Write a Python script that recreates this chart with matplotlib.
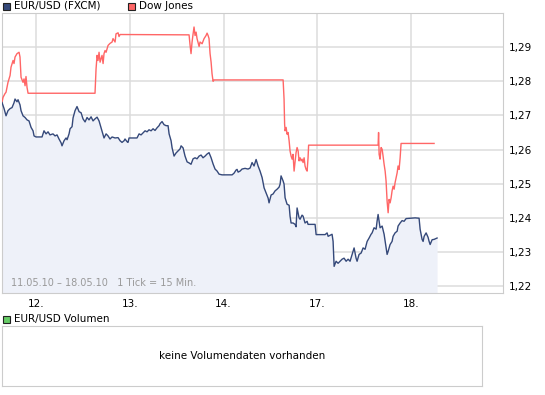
import numpy as np
import matplotlib.pyplot as plt
from matplotlib.patches import Rectangle

# trading-session position (12. = 1, 13. = 2, 14. = 3, 17. = 4, 18. = 5)
eur_t = [0.637, 0.659, 0.680, 0.701, 0.723, 0.744, 0.765, 0.776, 0.797, 0.808,
         0.829, 0.840, 0.861, 0.883, 0.904, 0.925, 0.947, 0.968, 0.979, 1.000,
         1.064, 1.085, 1.107, 1.128, 1.149, 1.181, 1.203, 1.224, 1.245, 1.267,
         1.277, 1.299, 1.320, 1.331, 1.352, 1.363, 1.384, 1.395, 1.416, 1.437,
         1.459, 1.480, 1.501, 1.523, 1.544, 1.565, 1.587, 1.608, 1.629, 1.651,
         1.672, 1.693, 1.715, 1.725, 1.747, 1.768, 1.789, 1.811, 1.843, 1.875,
         1.896, 1.917, 1.939, 1.949, 1.971, 1.981, 1.992, 2.077, 2.099, 2.120,
         2.141, 2.163, 2.184, 2.205, 2.227, 2.248, 2.269, 2.291, 2.312, 2.323,
         2.344, 2.365, 2.387, 2.408, 2.419, 2.440, 2.451, 2.472, 2.493, 2.515,
         2.536, 2.547, 2.568, 2.589, 2.611, 2.632, 2.653, 2.675, 2.696, 2.717,
         2.739, 2.760, 2.781, 2.803, 2.824, 2.845, 2.867, 2.888, 2.909, 2.931,
         2.952, 2.984, 3.091, 3.112, 3.133, 3.144, 3.155, 3.176, 3.197, 3.229,
         3.261, 3.283, 3.304, 3.325, 3.347, 3.368, 3.389, 3.411, 3.432, 3.453,
         3.475, 3.485, 3.507, 3.528, 3.549, 3.571, 3.592, 3.603, 3.613, 3.635,
         3.645, 3.656, 3.677, 3.699, 3.709, 3.720, 3.741, 3.763, 3.773, 3.784,
         3.805, 3.816, 3.837, 3.848, 3.869, 3.891, 3.901, 3.976, 3.987, 4.083,
         4.104, 4.115, 4.136, 4.157, 4.168, 4.179, 4.200, 4.221, 4.243, 4.264,
         4.285, 4.307, 4.328, 4.349, 4.371, 4.392, 4.413, 4.424, 4.445, 4.467,
         4.488, 4.509, 4.531, 4.552, 4.573, 4.584, 4.605, 4.627, 4.637, 4.648,
         4.669, 4.691, 4.712, 4.723, 4.744, 4.755, 4.776, 4.797, 4.808, 4.829,
         4.851, 4.861, 4.883, 4.904, 4.925, 4.947, 4.989, 5.043, 5.085, 5.096,
         5.117, 5.128, 5.139, 5.160, 5.181, 5.192, 5.203, 5.224, 5.245, 5.277]
eur_usd = [1.2738, 1.2720, 1.2699, 1.2714, 1.2720, 1.2723, 1.2737, 1.2748, 1.2740, 1.2746,
           1.2731, 1.2714, 1.2699, 1.2694, 1.2687, 1.2684, 1.2665, 1.2655, 1.2640, 1.2637,
           1.2637, 1.2655, 1.2646, 1.2652, 1.2643, 1.2646, 1.2640, 1.2643, 1.2631, 1.2620,
           1.2611, 1.2626, 1.2634, 1.2629, 1.2646, 1.2661, 1.2667, 1.2693, 1.2714, 1.2726,
           1.2711, 1.2708, 1.2690, 1.2681, 1.2694, 1.2687, 1.2696, 1.2684, 1.2690, 1.2695,
           1.2684, 1.2664, 1.2643, 1.2634, 1.2646, 1.2640, 1.2631, 1.2637, 1.2634, 1.2635,
           1.2626, 1.2621, 1.2626, 1.2631, 1.2623, 1.2621, 1.2634, 1.2634, 1.2646, 1.2643,
           1.2649, 1.2655, 1.2652, 1.2658, 1.2655, 1.2661, 1.2656, 1.2664, 1.2670, 1.2676,
           1.2682, 1.2673, 1.2670, 1.2670, 1.2646, 1.2626, 1.2605, 1.2581, 1.2590, 1.2596,
           1.2602, 1.2611, 1.2605, 1.2581, 1.2564, 1.2561, 1.2557, 1.2573, 1.2576, 1.2573,
           1.2581, 1.2584, 1.2576, 1.2581, 1.2587, 1.2591, 1.2576, 1.2558, 1.2543, 1.2537,
           1.2528, 1.2526, 1.2526, 1.2531, 1.2540, 1.2542, 1.2534, 1.2537, 1.2543, 1.2545,
           1.2543, 1.2546, 1.2562, 1.2552, 1.2571, 1.2552, 1.2537, 1.2518, 1.2488, 1.2473,
           1.2458, 1.2444, 1.2467, 1.2470, 1.2479, 1.2484, 1.2490, 1.2499, 1.2523, 1.2508,
           1.2499, 1.2459, 1.2440, 1.2437, 1.2405, 1.2385, 1.2385, 1.2381, 1.2374, 1.2429,
           1.2400, 1.2396, 1.2408, 1.2405, 1.2385, 1.2390, 1.2381, 1.2381, 1.2351, 1.2351,
           1.2356, 1.2346, 1.2349, 1.2352, 1.2331, 1.2258, 1.2273, 1.2267, 1.2273, 1.2279,
           1.2282, 1.2273, 1.2279, 1.2273, 1.2293, 1.2312, 1.2282, 1.2273, 1.2293, 1.2297,
           1.2312, 1.2308, 1.2331, 1.2341, 1.2352, 1.2356, 1.2371, 1.2367, 1.2390, 1.2410,
           1.2371, 1.2376, 1.2352, 1.2331, 1.2293, 1.2302, 1.2322, 1.2331, 1.2346, 1.2356,
           1.2361, 1.2376, 1.2385, 1.2392, 1.2390, 1.2398, 1.2399, 1.2400, 1.2399, 1.2367,
           1.2337, 1.2331, 1.2346, 1.2356, 1.2343, 1.2331, 1.2322, 1.2336, 1.2337, 1.2341]

# Dow Jones, drawn on the same (normalised) scale as EUR/USD
dow_t = [0.637, 0.648, 0.669, 0.680, 0.701, 0.723, 0.733, 0.755, 0.765, 0.776,
         0.797, 0.819, 0.829, 0.840, 0.861, 0.872, 0.883, 0.893, 0.904, 0.915,
         1.629, 1.640, 1.651, 1.661, 1.672, 1.683, 1.704, 1.715, 1.725, 1.736,
         1.747, 1.768, 1.789, 1.811, 1.821, 1.843, 1.853, 1.875, 1.885, 1.896,
         2.632, 2.643, 2.653, 2.664, 2.675, 2.685, 2.696, 2.707, 2.717, 2.739,
         2.749, 2.771, 2.792, 2.813, 2.824, 2.835, 2.845, 2.856, 2.867, 2.877,
         2.888, 2.899, 3.635, 3.645, 3.651, 3.656, 3.667, 3.677, 3.688, 3.699,
         3.709, 3.720, 3.731, 3.741, 3.752, 3.773, 3.784, 3.795, 3.805, 3.816,
         3.827, 3.837, 3.848, 3.859, 3.869, 3.880, 3.891, 3.901, 3.907, 4.648,
         4.653, 4.659, 4.669, 4.680, 4.691, 4.701, 4.712, 4.723, 4.733, 4.744,
         4.755, 4.765, 4.776, 4.787, 4.797, 4.808, 4.819, 4.829, 4.851, 4.861,
         4.872, 4.883, 4.893, 5.245]
dow_jones = [1.2738, 1.2753, 1.2764, 1.2768, 1.2797, 1.2817, 1.2841, 1.2861, 1.2852, 1.2871,
             1.2881, 1.2885, 1.2871, 1.2812, 1.2797, 1.2807, 1.2787, 1.2814, 1.2782, 1.2765,
             1.2765, 1.2836, 1.2876, 1.2861, 1.2885, 1.2856, 1.2876, 1.2852, 1.2881, 1.2890,
             1.2885, 1.2905, 1.2911, 1.2915, 1.2925, 1.2915, 1.2939, 1.2942, 1.2931, 1.2937,
             1.2936, 1.2905, 1.2881, 1.2915, 1.2939, 1.2959, 1.2934, 1.2944, 1.2925, 1.2902,
             1.2915, 1.2910, 1.2925, 1.2934, 1.2941, 1.2934, 1.2925, 1.2881, 1.2856, 1.2822,
             1.2800, 1.2804, 1.2804, 1.2748, 1.2675, 1.2655, 1.2665, 1.2645, 1.2650, 1.2626,
             1.2596, 1.2581, 1.2572, 1.2586, 1.2537, 1.2591, 1.2606, 1.2596, 1.2567, 1.2576,
             1.2567, 1.2572, 1.2562, 1.2576, 1.2552, 1.2542, 1.2537, 1.2576, 1.2613, 1.2613,
             1.2650, 1.2586, 1.2572, 1.2606, 1.2601, 1.2581, 1.2557, 1.2537, 1.2508, 1.2449,
             1.2415, 1.2454, 1.2444, 1.2459, 1.2479, 1.2493, 1.2484, 1.2503, 1.2532, 1.2552,
             1.2542, 1.2576, 1.2618, 1.2618]

day_pos = [1, 2, 3, 4, 5]
day_labels = ["12.", "13.", "14.", "17.", "18."]
price_ticks = [1.22, 1.23, 1.24, 1.25, 1.26, 1.27, 1.28, 1.29]

blue = "#35497a"
red = "#ff6666"
grid_c = "#dcdcdc"

plt.rcParams['font.family'] = ['DejaVu Sans']
fig = plt.figure(figsize=(5.45, 3.95), dpi=100)

ax = fig.add_axes([2 / 545, 102 / 395, 501 / 545, 280 / 395])
ax.set_xlim(0.637, 5.98)
ax.set_ylim(1.218, 1.300)
ax.fill_between(eur_t, eur_usd, 1.218, color="#eef1f9", lw=0, zorder=1)
ax.grid(True, color=grid_c, lw=1.1, zorder=0)
ax.plot(dow_t, dow_jones, color=red, lw=1.0, zorder=3)
ax.plot(eur_t, eur_usd, color=blue, lw=1.0, zorder=4)
ax.set_xticks(day_pos)
ax.set_xticklabels(day_labels, fontsize=7.5)
ax.set_yticks(price_ticks)
ax.set_yticklabels([f"{v:.2f}".replace(".", ",") for v in price_ticks], fontsize=7.5)
ax.yaxis.tick_right()
ax.tick_params(length=0, pad=4)
for s in ax.spines.values():
    s.set_color("#cccccc")
ax.set_axisbelow(True)
ax.text(0.018, 0.018, "11.05.10 \u2013 18.05.10   1 Tick = 15 Min.", transform=ax.transAxes,
        fontsize=7, color="#999999", va="bottom", ha="left", zorder=5)

# legend squares on top
def legend_item(x, y, col, label):
    fig.patches.append(Rectangle((x / 545, 1 - (y + 4) / 395), 7 / 545, 7 / 395,
                                 transform=fig.transFigure, facecolor=col,
                                 edgecolor="#222222", lw=0.8))
    fig.text((x + 11) / 545, 1 - y / 395, label, fontsize=7.5, va="center", ha="left")

legend_item(3, 6, blue, "EUR/USD (FXCM)")
legend_item(128, 6, red, "Dow Jones")
legend_item(3, 319, "#66cc66", "EUR/USD Volumen")

vol = fig.add_axes([2 / 545, 9 / 395, 480 / 545, 60 / 395])
vol.set_xticks([])
vol.set_yticks([])
for s in vol.spines.values():
    s.set_color("#cccccc")
vol.text(0.5, 0.5, "keine Volumendaten vorhanden", ha="center", va="center", fontsize=7.5,
         transform=vol.transAxes)

fig.savefig("out.png", dpi=100)
